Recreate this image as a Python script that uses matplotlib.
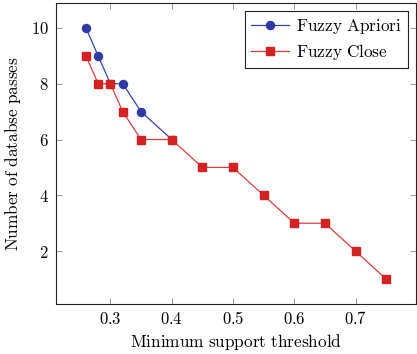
import matplotlib
matplotlib.use('Agg')
import matplotlib.pyplot as plt

# data
apriori_x = [0.26, 0.28, 0.30, 0.32, 0.35, 0.40]
apriori_y = [10, 9, 8, 8, 7, 6]
close_x = [0.26, 0.28, 0.30, 0.32, 0.35, 0.40, 0.45, 0.50, 0.55, 0.60, 0.65, 0.70, 0.75]
close_y = [9, 8, 8, 7, 6, 6, 5, 5, 4, 3, 3, 2, 1]
x_ticks = [0.3, 0.4, 0.5, 0.6, 0.7]
y_ticks = [2, 4, 6, 8, 10]

plt.rcParams['mathtext.fontset'] = 'cm'
plt.rcParams['font.family'] = 'serif'
plt.rcParams['font.serif'] = ['DejaVu Serif']

def tex(s):
    return r'$\mathrm{' + s.replace(' ', r'\ ') + '}$'

fig = plt.figure(figsize=(4.17, 3.54), dpi=100)
ax = fig.add_axes([0.134, 0.141, 0.864, 0.851])

ax.plot(apriori_x, apriori_y, '-', color='#3344aa', linewidth=0.9,
        marker='o', markersize=5.8, markerfacecolor='#2f3aa6', markeredgecolor='#2f3aa6',
        label=tex('Fuzzy Apriori'))
ax.plot(close_x, close_y, '-', color='#d44040', linewidth=0.9,
        marker='s', markersize=5.5, markerfacecolor='#d42222', markeredgecolor='#d42222',
        label=tex('Fuzzy Close'))

ax.set_xlim(0.211, 0.799)
ax.set_ylim(0.1, 10.9)
ax.set_xticks(x_ticks)
ax.set_xticklabels([tex(str(v)) for v in x_ticks])
ax.set_yticks(y_ticks)
ax.set_yticklabels([tex(str(v)) for v in y_ticks])
ax.tick_params(direction='in', length=4, width=0.6, color='#888888',
               top=True, right=True, labelsize=12, pad=5)
for sp in ax.spines.values():
    sp.set_linewidth(0.8)
    sp.set_color('#222222')

ax.set_xlabel(tex('Minimum support threshold'), fontsize=12.4, labelpad=3)
ax.set_ylabel(tex('Number of databse passes'), fontsize=12.4, labelpad=6)

leg = ax.legend(loc='upper right', fontsize=12.4, fancybox=False, framealpha=1,
                edgecolor='#222222', handlelength=2.2, borderpad=0.35,
                labelspacing=0.3, handletextpad=0.4, borderaxespad=0.5)
leg.get_frame().set_linewidth(0.8)

fig.savefig('out.png', dpi=100)
